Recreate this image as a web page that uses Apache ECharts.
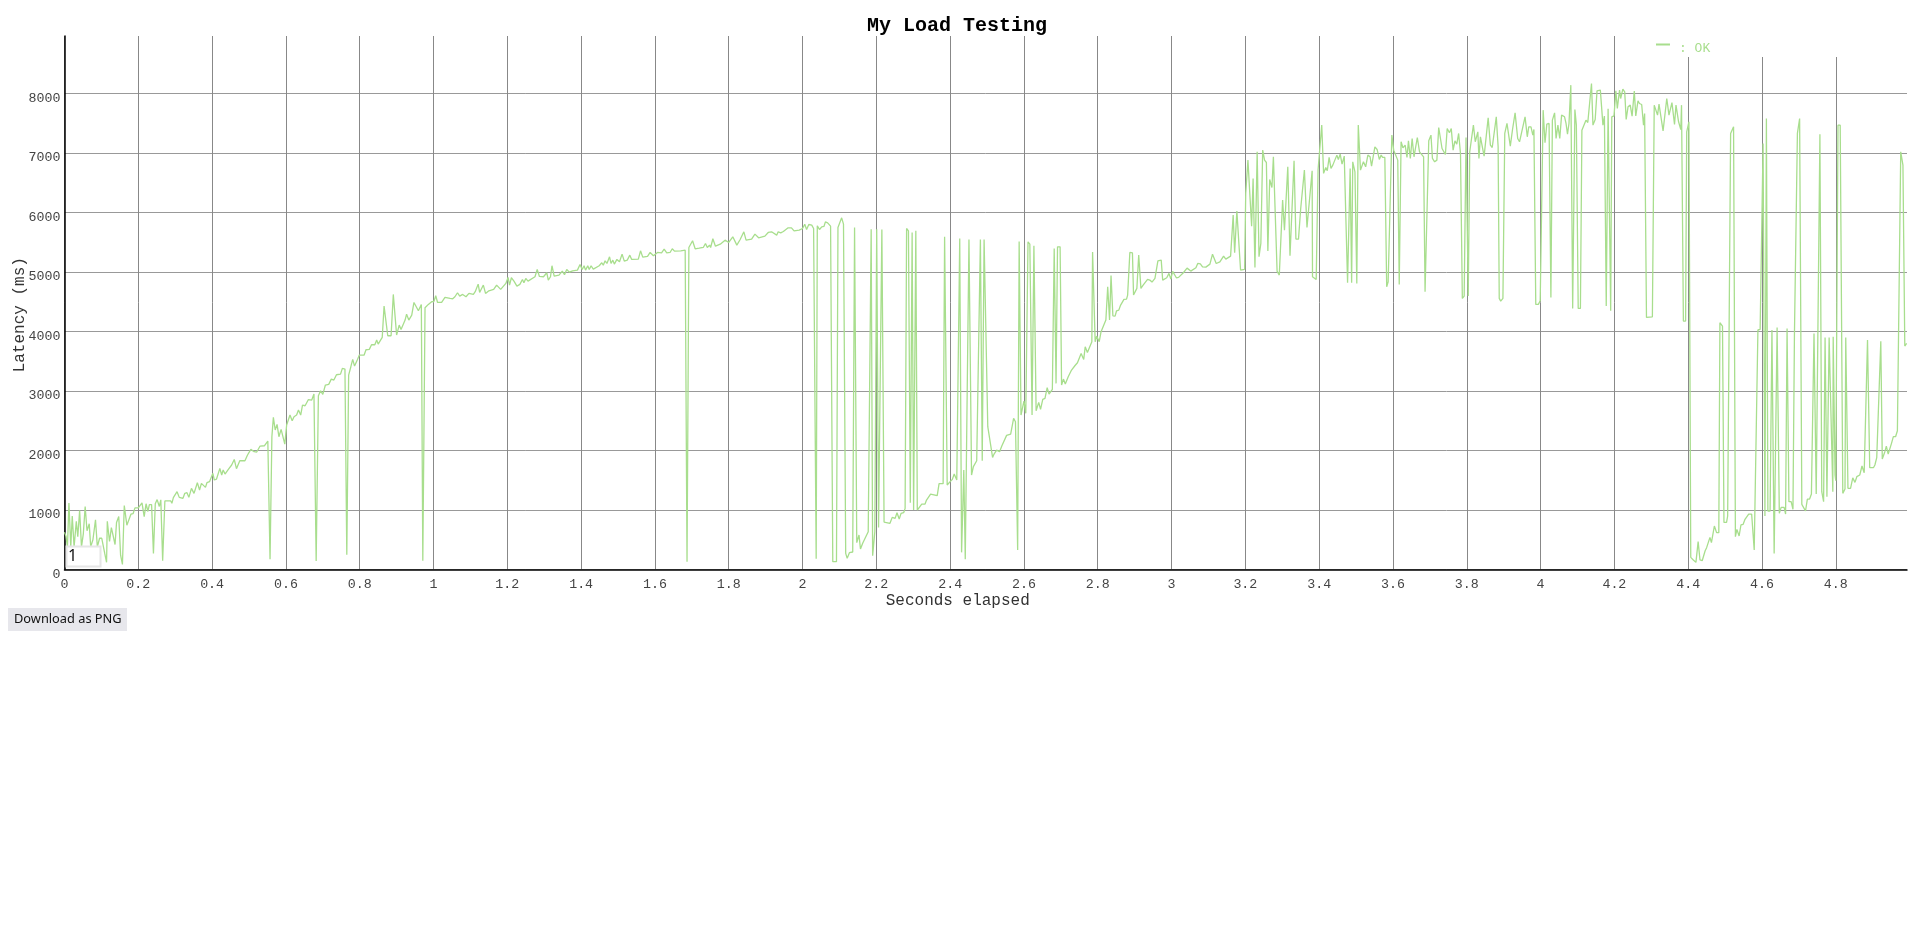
<!DOCTYPE html>
<html>
<head>
<meta charset="utf-8">
<title>My Load Testing</title>
<style>html,body{margin:0;padding:0;background:#fff;overflow:hidden}#c{width:1920px;height:932px}</style>
<script src="https://cdn.jsdelivr.net/npm/echarts@6/dist/echarts.min.js"></script>
</head>
<body>
<div id="c"></div>
<script>
const chartTitle = 'My Load Testing';
const xAxisName = 'Seconds elapsed';
const yAxisName = 'Latency (ms)';
const seriesName = 'OK';
const xMax = 4.993, xStep = 0.2, yMax = 8966, yStep = 1000;

// [seconds elapsed, latency ms]
const rampUp = [[0,627],[.004,560],[.008,380],[.012,1118],[.017,380],[.021,900],[.026,380],[.032,810],[.036,550],[.041,990],[.046,380],[.051,600],[.056,1060],[.061,650],[.067,770],[.071,380],[.077,500],[.084,835],[.089,380],[.095,525],[.101,525],[.109,270],[.114,120],[.116,810],[.122,470],[.127,705],[.132,705],[.137,420],[.141,790],[.147,890],[.152,240],[.157,85],[.162,1075],[.169,745],[.18,930],[.186,940],[.191,1035],[.2,1035],[.21,1120],[.216,890],[.221,1105],[.226,975],[.23,1090],[.236,1090],[.241,270],[.246,1105],[.251,1175],[.257,1060],[.261,1170],[.266,147],[.272,1152],[.288,1152],[.291,1112],[.295,1207],[.3,1224],[.305,1308],[.311,1212],[.316,1235],[.321,1196],[.326,1280],[.332,1291],[.337,1212],[.344,1364],[.351,1280],[.36,1459],[.366,1336],[.371,1448],[.376,1448],[.382,1380],[.386,1459],[.393,1476],[.402,1616],[.406,1504],[.412,1520],[.421,1700],[.426,1588],[.43,1672],[.435,1604],[.444,1683],[.453,1756],[.46,1850],[.466,1694],[.475,1828],[.489,1828],[.496,1924],[.505,2019],[.514,1980],[.521,1974],[.53,2075],[.542,2080],[.551,2159],[.557,171],[.562,2232],[.566,2556],[.571,2344],[.576,2439],[.581,2232],[.587,2355],[.591,2332],[.597,2108],[.602,2428],[.611,2596],[.617,2500],[.622,2568],[.629,2596],[.634,2680],[.64,2596],[.645,2764],[.652,2752],[.661,2856],[.67,2848],[.676,2948],[.682,143],[.688,2920],[.694,3004],[.7,2943],[.707,3100],[.716,3111],[.723,3200],[.73,3184],[.737,3273],[.748,3284],[.753,3380],[.76,3368],[.765,249],[.77,3268],[.776,3408],[.781,3531],[.786,3419],[.794,3531],[.799,3604],[.812,3604],[.817,3693],[.826,3699],[.832,3777],[.841,3777],[.846,3856],[.85,3788],[.861,3900],[.866,4427],[.871,4444],[.876,3928],[.885,3928],[.891,4623],[.9,3940],[.907,4108],[.912,4035],[.923,4192],[.927,4292],[.933,4192],[.941,4276],[.947,4488],[.952,4460],[.959,4348],[.967,4455],[.971,148],[.977,4399],[.986,4455],[.995,4500],[1.001,4505],[1.006,4600],[1.011,4488],[1.022,4488],[1.031,4572],[1.036,4539],[1.045,4555],[1.052,4550],[1.058,4584],[1.065,4651],[1.071,4595]];

const plateau = [[1.074,4584],[1.079,4623],[1.088,4584],[1.096,4640],[1.108,4623],[1.113,4668],[1.121,4796],[1.125,4656],[1.13,4656],[1.135,4780],[1.141,4640],[1.15,4684],[1.163,4707],[1.171,4780],[1.182,4707],[1.196,4808],[1.202,4908],[1.206,4780],[1.211,4903],[1.218,4847],[1.226,4763],[1.234,4791],[1.241,4875],[1.245,4819],[1.25,4892],[1.256,4847],[1.275,4920],[1.281,5043],[1.287,4925],[1.298,4920],[1.307,4987],[1.311,4864],[1.317,4920],[1.321,5105],[1.327,4931],[1.34,4948],[1.349,5015],[1.355,4953],[1.361,5043],[1.368,4998],[1.377,5020],[1.39,5031],[1.397,5127],[1.403,5043],[1.408,5105],[1.412,5031],[1.418,5105],[1.422,5043],[1.427,5105],[1.433,5048],[1.449,5105],[1.456,5155],[1.46,5115],[1.465,5188],[1.47,5143],[1.477,5255],[1.481,5143],[1.486,5199],[1.49,5132],[1.497,5211],[1.504,5171],[1.511,5300],[1.517,5182],[1.525,5199],[1.532,5283],[1.537,5211],[1.555,5216],[1.561,5356],[1.567,5250],[1.58,5261],[1.587,5328],[1.596,5272],[1.607,5328],[1.618,5322],[1.625,5384],[1.632,5322],[1.641,5328],[1.647,5390],[1.653,5350],[1.67,5356],[1.673,5372],[1.682,5367],[1.687,130],[1.692,5412],[1.696,5395],[1.702,5524],[1.709,5390],[1.72,5400],[1.731,5412],[1.737,5479],[1.742,5412],[1.748,5451],[1.751,5412],[1.757,5558],[1.764,5434],[1.777,5468],[1.79,5535],[1.8,5496],[1.811,5591],[1.822,5451],[1.831,5546],[1.836,5524],[1.841,5675],[1.847,5535],[1.862,5552],[1.871,5636],[1.881,5574],[1.898,5602],[1.907,5664],[1.916,5675],[1.93,5619],[1.934,5675],[1.941,5658],[1.948,5680],[1.961,5742],[1.97,5742],[1.977,5691],[1.991,5703],[2,5731],[2.006,5803],[2.011,5714],[2.017,5798],[2.025,5787],[2.03,5731],[2.033,5731],[2.037,182],[2.04,5776],[2.046,5714],[2.052,5759],[2.058,5765],[2.062,5843],[2.068,5826],[2.076,5770]];

const firstDrop = [[2.082,131],[2.092,131],[2.096,5748],[2.1,5759],[2.106,5910],[2.111,5804],[2.117,272],[2.121,187],[2.127,283],[2.136,294],[2.141,5748],[2.147,451],[2.153,580],[2.157,344],[2.163,440],[2.168,468],[2.178,636],[2.181,647],[2.186,5720],[2.19,232],[2.196,640],[2.201,5720],[2.206,708],[2.211,691],[2.215,5714],[2.221,798],[2.237,776],[2.243,876],[2.251,859],[2.256,955],[2.262,848],[2.267,943],[2.274,955],[2.278,1027],[2.282,5731],[2.287,5692],[2.292,1123],[2.297,5664],[2.301,999],[2.307,5692],[2.311,999],[2.316,999],[2.323,1100],[2.332,1100],[2.336,1167],[2.34,1156],[2.347,1268],[2.365,1240],[2.37,1442],[2.381,1442],[2.385,5591],[2.392,1420],[2.4,1476],[2.406,1515],[2.411,1604],[2.418,1504],[2.421,1504],[2.426,5563],[2.431,288],[2.437,1672],[2.441,171],[2.451,5546],[2.458,1588],[2.463,1728],[2.472,1828],[2.476,1828],[2.482,5546],[2.487,1828],[2.492,5546],[2.497,5558],[2.502,2400],[2.515,1884],[2.519,1940],[2.526,2007],[2.534,1980],[2.54,2075],[2.544,2103],[2.553,2254],[2.564,2276],[2.572,2540],[2.577,2484],[2.583,328],[2.587,5513],[2.592,2596],[2.6,2831],[2.605,2624],[2.611,5507],[2.616,5468],[2.622,2596],[2.627,5440],[2.633,2668],[2.64,2808],[2.645,2691],[2.651,2859],[2.657,2876],[2.663,3055],[2.668,2948],[2.677,3027],[2.682,5395],[2.687,3128],[2.691,5423],[2.698,5423],[2.702,3100],[2.707,3200],[2.712,3116],[2.72,3240],[2.729,3352],[2.738,3424],[2.745,3475],[2.755,3632],[2.762,3531],[2.766,3744],[2.772,3648],[2.784,3828],[2.786,5334],[2.793,3828],[2.797,3922],[2.804,3828],[2.809,3996],[2.822,4192],[2.827,4752],[2.832,4192],[2.836,4942],[2.841,4264],[2.847,4259],[2.851,4348],[2.857,4359],[2.862,4444],[2.867,4427],[2.871,4539],[2.878,4544],[2.881,4612],[2.887,5328],[2.894,5322],[2.897,4612],[2.906,4724],[2.911,5283],[2.917,4724],[2.923,4780],[2.928,4763],[2.935,4875],[2.941,4864],[2.947,4830],[2.955,4892],[2.963,5188],[2.972,5199],[2.976,4864],[2.987,4903],[2.993,4976],[2.998,4881],[3.003,5009],[3.008,4998],[3.013,4903],[3.019,4909],[3.032,4987],[3.042,5065],[3.052,5015],[3.066,5071],[3.071,5143],[3.078,5138],[3.084,5087],[3.093,5082],[3.104,5132],[3.111,5300],[3.121,5143],[3.131,5171],[3.141,5266],[3.147,5216],[3.152,5210],[3.16,5266],[3.167,5956],[3.171,5323],[3.177,6023],[3.187,5032],[3.198,5043]];

const highBand = [[3.201,6320],[3.207,6880],[3.217,5771],[3.221,6572],[3.226,5077],[3.232,7022],[3.237,5256],[3.242,5480],[3.247,7050],[3.252,6880],[3.257,6840],[3.261,5351],[3.266,6555],[3.272,6420],[3.276,6935],[3.286,5015],[3.292,4948],[3.301,6208],[3.306,5704],[3.315,6768],[3.321,5272],[3.332,6868],[3.337,5553],[3.344,5553],[3.35,6068],[3.36,6712],[3.367,5748],[3.381,6701],[3.382,4920],[3.392,4875],[3.397,6712],[3.407,7470],[3.412,6657],[3.418,6757],[3.422,6701],[3.427,6925],[3.432,6740],[3.437,6796],[3.441,6768],[3.448,6964],[3.452,6891],[3.457,6981],[3.462,6813],[3.468,6947],[3.472,6925],[3.477,4819],[3.484,6740],[3.488,4819],[3.491,6852],[3.497,6684],[3.502,4808],[3.506,7470],[3.512,6712],[3.52,6852],[3.526,6768],[3.532,6964],[3.538,6936],[3.542,6779],[3.547,6796],[3.551,7104],[3.557,7059],[3.563,6891],[3.568,6964],[3.572,6925],[3.578,6925],[3.583,4751],[3.587,4836],[3.597,7300],[3.602,7047],[3.607,7036],[3.613,6880],[3.617,4791],[3.622,7188],[3.627,7087],[3.633,7132],[3.638,6925],[3.642,7204],[3.647,6908],[3.652,7244],[3.657,6936],[3.666,7260],[3.672,7020],[3.676,7036],[3.683,6936],[3.687,4668],[3.692,4668],[3.697,7204],[3.703,7300],[3.707,6908],[3.713,6852],[3.719,6880],[3.724,7428],[3.733,7075],[3.742,6975],[3.747,7412],[3.753,7340],[3.758,7412],[3.763,7047],[3.768,7204],[3.773,7148],[3.778,7328],[3.783,6992],[3.788,4556],[3.793,4595],[3.798,7260],[3.804,4595],[3.808,7020],[3.818,7470],[3.823,7188],[3.83,7356],[3.833,6908],[3.837,7272],[3.847,6947],[3.858,7592],[3.864,7132],[3.869,7092],[3.88,7607],[3.885,7104],[3.888,4557],[3.892,4511],[3.898,4557],[3.903,7328],[3.909,7496],[3.918,7115],[3.924,7395],[3.931,7675],[3.938,7244],[3.943,7188],[3.958,7608],[3.964,7272],[3.968,7440],[3.974,7440],[3.979,7300],[3.982,7395],[3.987,4455],[3.994,4455],[3.999,4516],[4.007,7720],[4.012,7171],[4.017,7484],[4.023,7496],[4.028,4572],[4.032,7552],[4.038,7675],[4.042,7244],[4.047,7468],[4.052,7244],[4.057,7636],[4.065,7608],[4.069,7496],[4.073,7316],[4.077,7496],[4.082,8140],[4.087,4388],[4.093,7731],[4.097,7468],[4.102,4388],[4.108,4388],[4.112,7384],[4.123,7552],[4.128,7512],[4.133,7524],[4.138,8168],[4.142,7468],[4.148,7564],[4.153,8044],[4.158,8016],[4.162,8056],[4.169,7468],[4.173,7620],[4.178,4427],[4.183,7742],[4.19,4349],[4.193,7608],[4.199,7624],[4.204,8044],[4.208,7748],[4.214,8056],[4.217,7916],[4.223,8072],[4.228,8028],[4.232,7564],[4.237,7776],[4.243,7804],[4.248,7620],[4.254,8040],[4.258,7624],[4.264,7876],[4.268,7832],[4.274,7815],[4.279,7468],[4.282,7664],[4.287,4236],[4.303,4247],[4.308,7804],[4.313,7776],[4.317,7636],[4.321,7820],[4.332,7372],[4.342,7916],[4.348,7636],[4.356,7848],[4.363,7479],[4.367,7804],[4.374,7524],[4.38,7395],[4.382,7804],[4.387,4175],[4.393,4175],[4.396,7356],[4.402,7524]];

const secondDrop = [[4.407,204],[4.414,160],[4.421,120],[4.427,468],[4.432,160],[4.438,148],[4.446,316],[4.45,367],[4.454,367],[4.459,540],[4.463,451],[4.471,731],[4.477,619],[4.483,619],[4.486,4147],[4.493,4091],[4.497,792],[4.504,792],[4.507,899],[4.515,7328],[4.523,7440],[4.528,552],[4.532,675],[4.538,563],[4.543,748],[4.549,759],[4.554,843],[4.559,860],[4.564,932],[4.572,932],[4.579,328],[4.583,328],[4.589,4025],[4.595,4035],[4.603,7160],[4.608,899],[4.612,7580],[4.616,983],[4.622,983],[4.627,4024],[4.633,271],[4.641,4068],[4.647,944],[4.652,1044],[4.66,1044],[4.664,932],[4.668,4052],[4.673,1140],[4.679,1140],[4.684,1011],[4.688,3968],[4.693,3979],[4.696,7328],[4.702,7580],[4.708,1095],[4.713,1084],[4.718,983],[4.723,1184],[4.729,1184],[4.734,1268],[4.738,1268],[4.741,3968],[4.747,1268],[4.757,7316],[4.762,1308],[4.767,1140],[4.771,3900],[4.776,1224],[4.782,3900],[4.792,1308],[4.793,3912],[4.798,1588],[4.8,1492],[4.806,7468],[4.812,7468],[4.819,1280],[4.825,1352],[4.827,3900],[4.833,1364],[4.84,1364],[4.846,1540],[4.852,1464],[4.857,1560],[4.865,1588],[4.871,1739],[4.877,1627],[4.882,1605],[4.886,3856],[4.892,1711],[4.902,1711],[4.906,1756],[4.911,1879],[4.916,1884],[4.922,3836],[4.926,1856],[4.933,1980],[4.937,2074],[4.942,1940],[4.951,2120],[4.956,2232],[4.962,2232],[4.967,2332],[4.971,2332],[4.976,7020],[4.982,6796],[4.987,3755],[4.992,3800]];

const MONO = '"Liberation Mono","Courier New",monospace';
const SANS = '"Noto Sans","Open Sans",sans-serif';
const GREEN = '#a8de8d';

const chart = echarts.init(document.getElementById('c'), null, {renderer: 'canvas'});
chart.setOption({
  animation: false,
  backgroundColor: '#fff',
  title: {text: chartTitle, left: 867, top: 16, padding: 0,
    textStyle: {fontFamily: MONO, fontWeight: 'bold', fontSize: 20, color: '#000'}},
  legend: {data: [{name: seriesName, icon: 'path://M0 0H14V2H0Z M18 10H18.01V10.01H18Z'}], left: 1656, top: 42, itemWidth: 18, itemHeight: 10, itemGap: 2, padding: 0,
    formatter: n => ': ' + n,
    textStyle: {fontFamily: MONO, fontSize: 13, color: GREEN}},
  grid: {left: 64.5, top: 36, width: 1842.5, height: 533.5, containLabel: false, outerBoundsMode: 'none'},
  xAxis: {type: 'value', min: 0, max: xMax, interval: xStep,
    name: xAxisName, nameLocation: 'middle', nameGap: 23, nameMoveOverlap: false,
    nameTextStyle: {fontFamily: MONO, fontSize: 16, color: '#333', padding: [0, 56, 0, 0]},
    axisLine: {show: true, onZero: false, lineStyle: {color: '#000', width: 1.5}},
    axisTick: {show: false},
    axisLabel: {fontFamily: MONO, fontSize: 13.3, color: '#444', margin: 8, showMaxLabel: false},
    splitLine: {show: true, showMaxLine: false, lineStyle: {color: '#888', width: 1}}},
  yAxis: {type: 'value', min: 0, max: yMax, interval: yStep,
    name: yAxisName, nameLocation: 'middle', nameGap: 37, nameMoveOverlap: false,
    nameTextStyle: {fontFamily: MONO, fontSize: 16, color: '#333', padding: [0, 24, 0, 0]},
    axisLine: {show: true, onZero: false, lineStyle: {color: '#000', width: 1.5}},
    axisTick: {show: false},
    axisLabel: {fontFamily: MONO, fontSize: 13.3, color: '#444', margin: 4, showMaxLabel: false, verticalAlign: 'top', lineHeight: 9, formatter: v => String(v)},
    splitLine: {show: true, showMaxLine: false, lineStyle: {color: '#999', width: 1}}},
  series: [{name: seriesName, type: 'line', showSymbol: false, symbol: 'none', smooth: false, sampling: null,
    lineStyle: {color: GREEN, width: 1.3}, itemStyle: {color: GREEN},
    data: [].concat(rampUp, plateau, firstDrop, highBand, secondDrop)}],
  graphic: [
    {type: 'rect', z: 1, silent: true, shape: {x: 1640, y: 34, width: 280, height: 23}, style: {fill: '#fff'}},
    {type: 'rect', z: 10, silent: true, shape: {x: 66.5, y: 546.5, width: 34, height: 20}, style: {fill: '#fff', stroke: '#e6e6e6', lineWidth: 2}},
    {type: 'text', z: 11, silent: true, x: 68, y: 548, style: {text: '1', fontFamily: SANS, fontSize: 16, fill: '#111'}},
    {type: 'rect', z: 10, silent: true, shape: {x: 8, y: 608, width: 119, height: 23}, style: {fill: '#e7e7ec'}},
    {type: 'text', z: 11, silent: true, x: 14, y: 613, style: {text: 'Download as PNG', fontFamily: SANS, fontSize: 12.8, fill: '#111'}}
  ]
});
</script>
</body>
</html>
